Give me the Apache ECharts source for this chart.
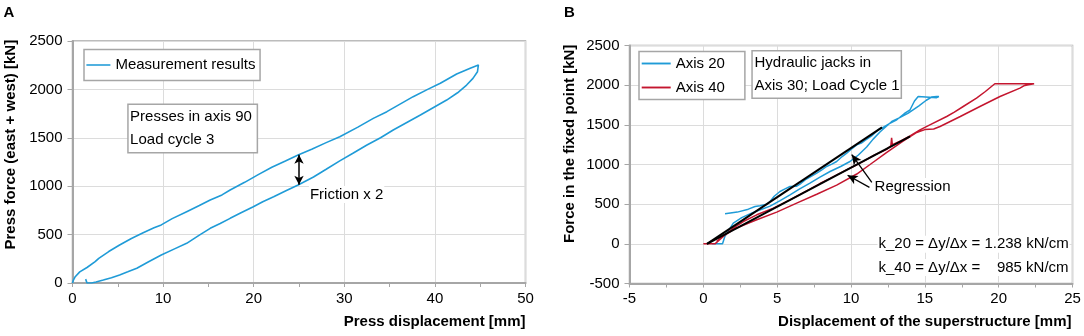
<!DOCTYPE html>
<html><head><meta charset="utf-8">
<script src="https://cdn.jsdelivr.net/npm/echarts@6/dist/echarts.min.js"></script>
<style>html,body{margin:0;padding:0;background:#fff}#c{width:1084px;height:336px}</style>
</head><body><div id="c"></div>
<script>
const FONT = '"Liberation Sans", Arial, sans-serif';
const BLUE = '#1f9bd7', RED = '#c4162f', GRAYAX = '#a6a6a6', GRID = '#dcdcdc';

// ---------- Panel A data ----------
const seriesNameA = 'Measurement results';
const axisRangeA = { xMin: 0, xMax: 50, xStep: 10, yMin: 0, yMax: 2500, yStep: 500 };
const pressLoading = [[0,0],[0.1,30],[0.3,65],[0.8,115],[1.6,160],[2.5,220],[2.9,255],[4,325],[5.2,393],[6.5,460],[7.8,520],[9,570],[9.8,600],[11,665],[12.6,737],[14,800],[15.2,857],[16.5,910],[17.4,961],[19,1040],[20.5,1120],[22,1195],[23.5,1260],[24.9,1322],[26.4,1381],[28,1450],[29.5,1511],[31.5,1610],[33.2,1701],[34.7,1770],[36.2,1850],[37.6,1925],[39.2,2000],[40.6,2063],[42.4,2159],[43.9,2218],[44.8,2252],[45,2255]];
const pressUnloading = [[45,2240],[44.7,2183],[44.2,2114],[43.5,2045],[42.5,1965],[41.3,1890],[39.8,1810],[38.4,1736],[36.9,1658],[35.4,1580],[34,1500],[32.5,1425],[31,1343],[29.5,1262],[28,1175],[26.6,1095],[24.9,1012],[23.5,950],[22.2,891],[21,840],[19.96,788],[18.6,725],[17.4,668],[16.3,615],[15.2,565],[14,495],[12.6,410],[11.2,350],[9.8,289],[8.4,220],[7.1,152],[6.1,115],[5.2,83],[4.3,55],[3.4,31],[2.6,10],[2.1,0],[1.6,0],[1.5,20],[1.45,40]];
const frictionArrow = [[25,1015],[25,1325]];

// ---------- Panel B data ----------
const seriesNamesB = ['Axis 20', 'Axis 40'];
const axisRangeB = { xMin: -5, xMax: 25, xStep: 5, yMin: -500, yMax: 2500, yStep: 500 };
const axis20 = [[0.6,0],[1.3,0],[1.45,90],[1.75,180],[2.03,260],[2.6,330],[3.3,390],[4.0,440],[4.52,475],[5.2,545],[5.87,618],[6.5,690],[7.22,765],[7.9,840],[8.58,912],[9.3,975],[9.93,1038],[10.5,1120],[11.06,1220],[11.5,1320],[11.96,1410],[12.76,1542],[13.3,1590],[13.88,1648],[14.6,1740],[15.1,1810],[15.46,1850],[15.8,1857],[15.95,1857],[15.8,1842],[15.7,1857],[14.55,1857],[14.3,1800],[14.0,1690],[13.6,1640],[13.1,1564],[12.6,1515],[12.2,1470],[11.85,1438],[11.4,1360],[10.95,1303],[10.7,1270],[10.39,1248],[10.0,1190],[9.71,1144],[9.4,1100],[9.03,1038],[8.7,1005],[8.35,975],[8.0,930],[7.68,891],[7.3,850],[6.89,807],[6.6,760],[6.3,725],[5.87,723],[5.5,690],[5.19,660],[4.8,600],[4.52,534],[4.3,500],[3.84,479],[3.5,470],[3.05,437],[2.3,400],[1.47,378]];
const axis40 = [[0,0],[0.79,0],[1.35,92],[2.03,198],[2.71,281],[3.62,366],[4.74,450],[5.87,555],[7.22,690],[7.9,760],[8.58,825],[9.93,955],[10.16,975],[10.83,1040],[11.6,1120],[12.42,1190],[12.7,1235],[12.75,1335],[12.8,1250],[13.4,1300],[14.0,1360],[14.67,1437],[15.34,1500],[16.48,1605],[17.0,1660],[17.6,1731],[18.5,1837],[19.1,1920],[19.74,2018],[21.0,2018],[22.4,2018],[22.0,2005],[21.7,1992],[21.44,1963],[20.09,1857],[18.73,1731],[17.4,1605],[16.03,1479],[15.6,1448],[15.0,1440],[14.4,1400],[13.5,1290],[12.4,1150],[11.29,1000],[10.39,880],[9.03,740],[7.68,625],[6.32,513],[4.97,400],[3.62,303],[2.7,235],[2.03,180],[1.3,90],[0.9,30]];
const regression20 = [[0.25,0],[12.1,1467]];
const regression40 = [[0.25,0],[14.0,1354]];
const regressionArrows = [[[11.41,776],[10.05,1125]],[[11.25,712],[9.77,864]]];

// ---------- texts ----------
const panelLabels = ['A', 'B'];
const titlesA = { x: 'Press displacement [mm]', y: 'Press force (east + west) [kN]' };
const titlesB = { x: 'Displacement of the superstructure [mm]', y: 'Force in the fixed point [kN]' };
const noteA = 'Presses in axis 90\nLoad cycle 3';
const frictionText = 'Friction x 2';
const noteB = 'Hydraulic jacks in\nAxis 30; Load Cycle 1';
const regressionText = 'Regression';
const kTexts = ['k_20 = \u0394y/\u0394x = 1.238 kN/cm', 'k_40 = \u0394y/\u0394x =    985 kN/cm'];

const chart = echarts.init(document.getElementById('c'), null, { renderer: 'canvas' });

function xAxisCfg(gridIndex, r) {
  return {
    gridIndex, type: 'value', min: r.xMin, max: r.xMax, interval: r.xStep,
    axisLine: { show: true, onZero: false, lineStyle: { color: GRAYAX, width: 2 } },
    axisTick: { show: true, length: 4, lineStyle: { color: GRAYAX } },
    minorTick: { show: true, splitNumber: 2, length: 4, lineStyle: { color: GRAYAX } },
    splitLine: { show: true, lineStyle: { color: GRID, width: 1 } },
    axisLabel: { margin: 8, color: '#000', fontSize: 15, fontFamily: FONT, formatter: v => String(v) }
  };
}
function yAxisCfg(gridIndex, r) {
  return {
    gridIndex, type: 'value', min: r.yMin, max: r.yMax, interval: r.yStep,
    axisLine: { show: true, onZero: false, lineStyle: { color: GRAYAX, width: 2 } },
    axisTick: { show: true, length: 5, lineStyle: { color: GRAYAX } },
    splitLine: { show: true, lineStyle: { color: GRID, width: 1 } },
    axisLabel: { margin: 10, color: '#000', fontSize: 15, fontFamily: FONT, formatter: v => String(v) }
  };
}

const txt = (x, y, text, opt) => ({
  type: 'text', x, y, z: 100, silent: true,
  style: Object.assign({ text, font: '15px ' + FONT, fill: '#000', align: 'left', verticalAlign: 'middle' }, opt || {})
});
const boldFont = 'bold 15px ' + FONT;
const legendIcon = 'path://M0,0H40V2.6H0Z';

const option = {
  animation: false,
  backgroundColor: '#fff',
  grid: [
    { left: 72.5, top: 41, width: 453, height: 242, show: true, borderColor: GRAYAX, borderWidth: 1.5, backgroundColor: 'transparent' },
    { left: 629.5, top: 45.5, width: 443, height: 238, show: true, borderColor: GRAYAX, borderWidth: 1.5, backgroundColor: 'transparent' }
  ],
  xAxis: [xAxisCfg(0, axisRangeA), xAxisCfg(1, axisRangeB)],
  yAxis: [yAxisCfg(0, axisRangeA), yAxisCfg(1, axisRangeB)],
  legend: [
    { data: [{ name: seriesNameA, icon: legendIcon }], left: 84, top: 49.5, orient: 'horizontal', padding: [8, 4.6, 8, 2.4],
      itemWidth: 24, itemHeight: 14, symbolKeepAspect: true, borderColor: GRAYAX, borderWidth: 1.5, backgroundColor: '#fff',
      textStyle: { fontSize: 15, fontFamily: FONT, color: '#000' }, selectedMode: false, z: 50 },
    { data: seriesNamesB.map(n => ({ name: n, icon: legendIcon })), left: 639, top: 51.5, orient: 'vertical', padding: [4.5, 20, 4.5, 2.7], itemGap: 9,
      itemWidth: 29, itemHeight: 14, symbolKeepAspect: true, borderColor: GRAYAX, borderWidth: 1.5, backgroundColor: '#fff',
      textStyle: { fontSize: 15, fontFamily: FONT, color: '#000' }, selectedMode: false, z: 50 }
  ],
  series: [
    { name: seriesNameA, type: 'line', xAxisIndex: 0, yAxisIndex: 0, symbol: 'none',
      data: pressLoading.concat(pressUnloading), lineStyle: { color: BLUE, width: 1.6 }, itemStyle: { color: BLUE },
      markLine: { silent: true, symbol: ['arrow', 'arrow'], symbolSize: [7, 9], label: { show: false },
        lineStyle: { color: '#000', width: 1.5, type: 'solid' },
        data: [[{ coord: frictionArrow[0] }, { coord: frictionArrow[1] }]] } },
    { name: seriesNamesB[0], type: 'line', xAxisIndex: 1, yAxisIndex: 1, symbol: 'none',
      data: axis20, lineStyle: { color: BLUE, width: 1.5 }, itemStyle: { color: BLUE } },
    { name: seriesNamesB[1], type: 'line', xAxisIndex: 1, yAxisIndex: 1, symbol: 'none',
      data: axis40, lineStyle: { color: RED, width: 1.5 }, itemStyle: { color: RED } },
    { name: 'reg20', type: 'line', xAxisIndex: 1, yAxisIndex: 1, symbol: 'none',
      data: regression20, lineStyle: { color: '#000', width: 2 } },
    { name: 'reg40', type: 'line', xAxisIndex: 1, yAxisIndex: 1, symbol: 'none',
      data: regression40, lineStyle: { color: '#000', width: 2 },
      markLine: { silent: true, symbol: ['none', 'arrow'], symbolSize: [7, 10], label: { show: false },
        lineStyle: { color: '#000', width: 1.3, type: 'solid' },
        data: regressionArrows.map(a => [{ coord: a[0] }, { coord: a[1] }]) } }
  ],
  graphic: [
    txt(3.5, 12.8, panelLabels[0], { font: boldFont }),
    txt(563.9, 12.8, panelLabels[1], { font: boldFont }),
    Object.assign(txt(10.4, 144.7, titlesA.y, { font: boldFont, align: 'center' }), { rotation: Math.PI / 2 }),
    txt(525.5, 321.5, titlesA.x, { font: boldFont, align: 'right' }),
    Object.assign(txt(569.8, 143.8, titlesB.y, { font: boldFont, align: 'center' }), { rotation: Math.PI / 2 }),
    txt(1071.5, 321.5, titlesB.x, { font: boldFont, align: 'right' }),
    txt(128.7, 105.1, noteA, { verticalAlign: 'top', lineHeight: 23.5, backgroundColor: '#fff', borderColor: GRAYAX, borderWidth: 1.5, padding: [0, 4.8, 0, 1.4] }),
    txt(308.9, 194.4, frictionText, { backgroundColor: '#fff', padding: [1, 1, 1, 1] }),
    txt(752.8, 51.5, noteB, { verticalAlign: 'top', lineHeight: 23, backgroundColor: '#fff', borderColor: GRAYAX, borderWidth: 1.5, padding: [0, 1, 0, 1.7] }),
    txt(873.6, 186.5, regressionText, { backgroundColor: '#fff', padding: [1, 1, 1, 1] }),
    txt(877.5, 244.2, kTexts[0], { backgroundColor: '#fff', padding: [1, 1, 1, 1] }),
    txt(877.5, 267.5, kTexts[1], { backgroundColor: '#fff', padding: [1, 1, 1, 1] })
  ]
};
chart.setOption(option);
</script>
</body></html>
